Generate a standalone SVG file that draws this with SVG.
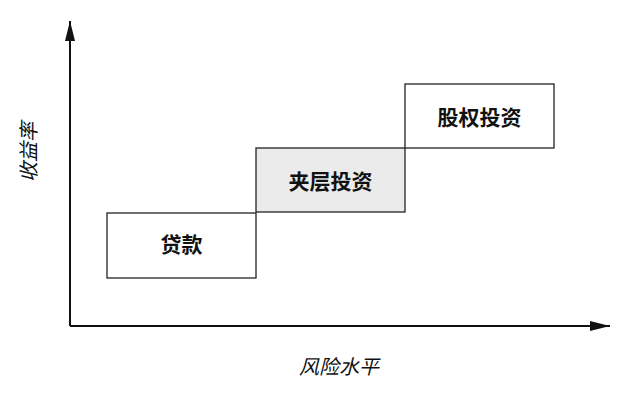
<svg xmlns="http://www.w3.org/2000/svg" width="640" height="398" viewBox="0 0 640 398">
<style>
.box{stroke:#222;stroke-width:1.3}
.lbl{font-family:"Noto Sans CJK SC","Liberation Sans",sans-serif;font-weight:bold;font-size:21px;fill:#111;text-anchor:middle;dominant-baseline:central}
.ax{font-family:"Noto Sans CJK SC","Liberation Sans",sans-serif;font-style:italic;font-size:20px;fill:#111;text-anchor:middle;dominant-baseline:central}
.axis{stroke:#111;stroke-width:2;fill:none}
</style>
<defs>
<marker id="arr" viewBox="0 0 20 10" refX="20" refY="5" markerWidth="20" markerHeight="10" markerUnits="userSpaceOnUse" orient="auto">
<path d="M0,0 L20,5 L0,10 z" fill="#111"/>
</marker>
</defs>
<rect width="640" height="398" fill="#fff"/>
<g id="axes">
<path class="axis" d="M70,326 L70,21" marker-end="url(#arr)"/>
<path class="axis" d="M70,326 L610,326" marker-end="url(#arr)"/>
</g>
<g id="loan">
<rect class="box" x="107" y="213" width="149" height="65" fill="#fff"/>
<text class="lbl" x="181.5" y="243">贷款</text>
</g>
<g id="mezzanine">
<rect class="box" x="256" y="148" width="149" height="64" fill="#ebebeb"/>
<text class="lbl" x="330.5" y="180">夹层投资</text>
</g>
<g id="equity">
<rect class="box" x="405" y="84" width="149" height="64" fill="#fff"/>
<text class="lbl" x="479.5" y="116">股权投资</text>
</g>
<g id="labels">
<text class="ax" x="0" y="0" transform="translate(27,152) rotate(-90)">收益率</text>
<text class="ax" x="339" y="365">风险水平</text>
</g>
</svg>
